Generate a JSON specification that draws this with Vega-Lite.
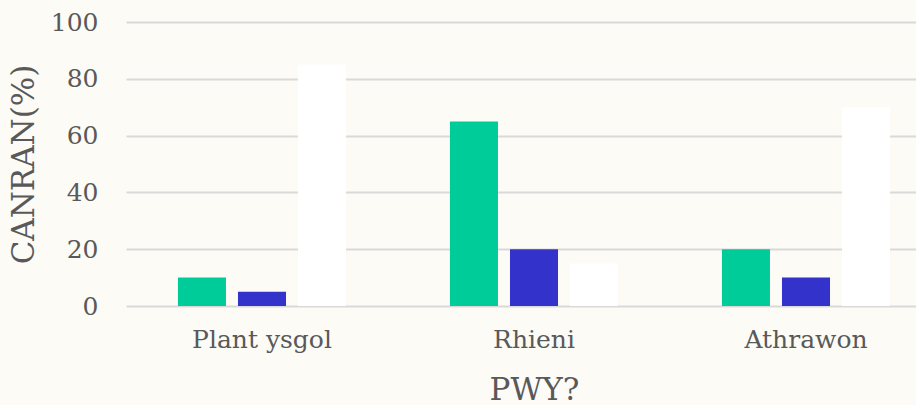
{
  "$schema": "https://vega.github.io/schema/vega-lite/v6.json",
  "width": 790,
  "height": 284,
  "autosize": {"type": "none"},
  "padding": {"left": 126, "top": 22, "right": 0, "bottom": 99},
  "background": "#fcfbf6",
  "config": {
    "view": {"stroke": null},
    "font": "DejaVu Serif",
    "axis": {"labelFont": "DejaVu Serif", "titleFont": "DejaVu Serif"}
  },
  "data": {
    "values": [
      {"group": "Plant ysgol", "series": "A", "value": 10},
      {"group": "Plant ysgol", "series": "B", "value": 5},
      {"group": "Plant ysgol", "series": "C", "value": 85},
      {"group": "Rhieni", "series": "A", "value": 65},
      {"group": "Rhieni", "series": "B", "value": 20},
      {"group": "Rhieni", "series": "C", "value": 15},
      {"group": "Athrawon", "series": "A", "value": 20},
      {"group": "Athrawon", "series": "B", "value": 10},
      {"group": "Athrawon", "series": "C", "value": 70}
    ]
  },
  "mark": {"type": "bar"},
  "encoding": {
    "x": {
      "field": "group",
      "type": "nominal",
      "sort": ["Plant ysgol", "Rhieni", "Athrawon"],
      "scale": {"range": [0, 816], "paddingInner": 0.382, "paddingOuter": 0.191},
      "axis": {
        "title": "PWY?",
        "labelAngle": 0,
        "labelFontSize": 25,
        "labelColor": "#595959",
        "labelPadding": 21,
        "ticks": false,
        "domain": false,
        "titleFontSize": 31,
        "titleFontWeight": "normal",
        "titleColor": "#595959",
        "titleX": 408,
        "titlePadding": 23
      }
    },
    "xOffset": {
      "field": "series",
      "type": "nominal",
      "scale": {"paddingInner": 0.2, "paddingOuter": 0}
    },
    "y": {
      "field": "value",
      "type": "quantitative",
      "scale": {"domain": [0, 100]},
      "axis": {
        "title": "CANRAN(%)",
        "values": [0, 20, 40, 60, 80, 100],
        "labelFontSize": 25,
        "labelColor": "#595959",
        "labelPadding": 28,
        "ticks": false,
        "domain": false,
        "gridColor": "#d9d9d9",
        "gridWidth": 2,
        "titleFontSize": 31,
        "titleFontWeight": "normal",
        "titleColor": "#595959",
        "titlePadding": 10
      }
    },
    "color": {
      "field": "series",
      "type": "nominal",
      "scale": {"domain": ["A", "B", "C"], "range": ["#00cc99", "#3333cc", "#ffffff"]},
      "legend": null
    }
  }
}
